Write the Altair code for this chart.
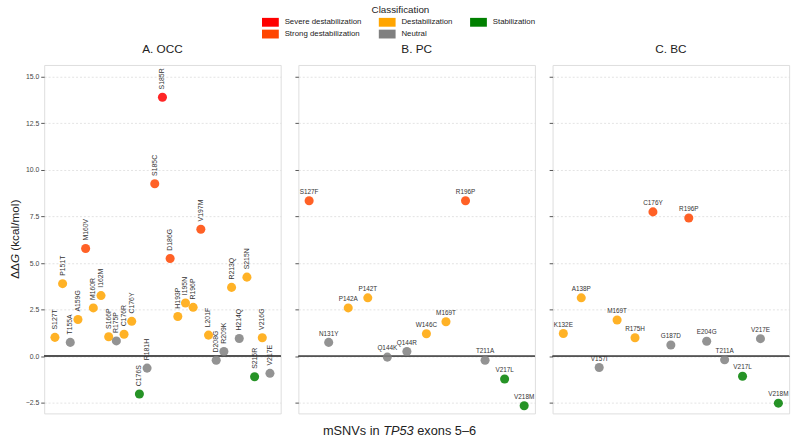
import altair as alt
import pandas as pd

# ---- data ----
occ_mut = ["S127T", "P151T", "T155A", "A159G", "M160V", "M160R", "I162M", "S166P",
           "R175P", "C176R", "C176Y", "C176S", "R181H", "S185C", "S185R", "D186G",
           "H193P", "I195N", "R196P", "V197M", "L201F", "D208G", "R209K", "R213Q",
           "H214Q", "S215N", "S215R", "V216G", "V217E"]
occ_ddg = [1.02, 3.90, 0.75, 1.98, 5.79, 2.60, 3.26, 1.05, 0.83, 1.19, 1.88, -2.02,
           -0.63, 9.26, 13.90, 5.25, 2.14, 2.86, 2.63, 6.82, 1.14, -0.21, 0.26, 3.70,
           0.96, 4.25, -1.09, 1.00, -0.91]
occ_cls = ["D", "D", "N", "D", "St", "D", "D", "D", "N", "D", "D", "S", "N", "St", "Sev",
           "St", "D", "D", "D", "St", "D", "N", "N", "D", "N", "D", "S", "D", "N"]

pc_mut = ["S127F", "N131Y", "P142A", "P142T", "Q144K", "Q144R", "W146C", "M169T",
          "R196P", "T211A", "V217L", "V218M"]
pc_ddg = [8.35, 0.75, 2.60, 3.14, -0.04, 0.26, 1.21, 1.86, 8.35, -0.21, -1.21, -2.65]
pc_cls = ["St", "N", "D", "D", "N", "N", "D", "D", "St", "N", "S", "S"]

bc_mut = ["K132E", "A138P", "V157I", "M169T", "R175H", "C176Y", "G187D", "R196P",
          "E204G", "T211A", "V217L", "V217E", "V218M"]
bc_ddg = [1.23, 3.14, -0.60, 1.95, 1.00, 7.75, 0.61, 7.42, 0.81, -0.18, -1.07, 0.95, -2.51]
bc_cls = ["D", "D", "N", "D", "D", "St", "N", "St", "N", "N", "S", "N", "S"]

cls_names = {"Sev": "Severe destabilization", "St": "Strong destabilization",
             "D": "Destabilization", "N": "Neutral", "S": "Stabilization"}
legend_order = ["Severe destabilization", "Destabilization", "Stabilization",
                "Strong destabilization", "Neutral"]
legend_colors = ["#ff0000", "#ffa500", "#008000", "#ff4500", "#808080"]
y_ticks = [-2.5, 0.0, 2.5, 5.0, 7.5, 10.0, 12.5, 15.0]

# axis title pieces (italic parts rendered separately)
ytitle_parts = ["ΔΔ", "G", "(kcal/mol)"]
xtitle_parts = ["mSNVs in", "TP53", "exons 5–6"]


def make_df(muts, vals, cls):
    return pd.DataFrame({
        "idx": list(range(len(muts))),
        "mut": muts,
        "ddg": vals,
        "cls": [cls_names[c] for c in cls],
    })


FONT = "Liberation Sans"
W, H = 241, 355

color_enc = alt.Color(
    "cls:N",
    scale=alt.Scale(domain=legend_order, range=legend_colors),
    legend=alt.Legend(
        title="Classification", orient="none", legendX=226, legendY=-61,
        columns=3, direction="horizontal",
        symbolType="M-1.9,-1H1.9V1H-1.9Z", symbolSize=81, symbolStrokeWidth=0,
        symbolOpacity=1, labelFontSize=8, labelFont=FONT, labelColor="#222",
        titleFontSize=10, titleFont=FONT, titleFontWeight="normal",
        titleColor="#222", titleAnchor="middle", titlePadding=3,
        columnPadding=16, rowPadding=3, labelOffset=10,
    ),
)


def title_piece(text, x, y, size, align, angle=None, italic=False):
    kw = dict(align=align, baseline="middle", fontSize=size, font=FONT, color="#222")
    if angle is not None:
        kw["angle"] = angle
    if italic:
        kw["fontStyle"] = "italic"
    return alt.Chart(pd.DataFrame({"t": [text]})).mark_text(**kw).encode(
        x=alt.value(x), y=alt.value(y), text="t:N")


def panel(df, title, rotated, first, xtitle=False):
    n = len(df)
    x = alt.X("idx:Q", axis=None,
              scale=alt.Scale(domain=[-0.05 * (n - 1), 1.05 * (n - 1)], nice=False, zero=False))
    if first:
        yaxis = alt.Axis(values=y_ticks, format=".1f", title=None,
                         labelFontSize=7, labelFont=FONT, labelColor="#444",
                         tickSize=3.5, tickColor="#555", domain=False,
                         grid=True, gridDash=[2, 2], gridColor="#d6d6d6", gridWidth=0.7)
    else:
        yaxis = alt.Axis(values=y_ticks, labels=False, title=None,
                         tickSize=3.5, tickColor="#555", domain=False,
                         grid=True, gridDash=[2, 2], gridColor="#d6d6d6", gridWidth=0.7)
    y = alt.Y("ddg:Q", axis=yaxis,
              scale=alt.Scale(domain=[-3.06, 15.63], nice=False, zero=False))
    base = alt.Chart(df)
    zero = base.mark_rule(color="#555", strokeWidth=0.9).encode(y=alt.datum(0))
    pts = base.mark_circle(size=85, opacity=0.85).encode(x=x, y=y, color=color_enc)
    if rotated:
        txt = base.mark_text(angle=270, align="left", baseline="middle", dx=8,
                             fontSize=7, font=FONT, color="#333").encode(x=x, y=y, text="mut:N")
    else:
        txt = base.mark_text(align="center", baseline="alphabetic", dy=-7,
                             fontSize=6.5, font=FONT, color="#333").encode(x=x, y=y, text="mut:N")
    layers = [zero, pts, txt]
    if first:
        # y-axis title: "ΔΔ" + italic "G" + "(kcal/mol)", reading bottom to top
        yc, xc = H / 2, -30
        start = yc + 40.3
        layers += [
            title_piece(ytitle_parts[0], xc, start, 12, "left", angle=270),
            title_piece(ytitle_parts[1], xc, start - 16.0, 12, "left", angle=270, italic=True),
            title_piece(ytitle_parts[2], xc, start - 28.6, 12, "left", angle=270),
        ]
    if xtitle:
        ty = H + 18
        layers += [
            title_piece(xtitle_parts[0], 82.8, ty, 13, "right"),
            title_piece(xtitle_parts[1], 86.4, ty, 13, "left", italic=True),
            title_piece(xtitle_parts[2], 121.1, ty, 13, "left"),
        ]
    return alt.layer(*layers).properties(
        width=W, height=H,
        title=alt.TitleParams(title, fontSize=12, fontWeight="normal", font=FONT,
                              color="#222", offset=9),
    )


a = panel(make_df(occ_mut, occ_ddg, occ_cls), "A. OCC", True, True)
b = panel(make_df(pc_mut, pc_ddg, pc_cls), "B. PC", False, False, xtitle=True)
c = panel(make_df(bc_mut, bc_ddg, bc_cls), "C. BC", False, False)

chart = alt.hconcat(a, b, c, spacing=12).properties(
    padding={"left": 8, "top": 1, "right": 6, "bottom": 4},
).configure_view(stroke="#555", strokeWidth=1).configure(background="white")

chart.save("out.html", embed_options={"renderer": "svg", "actions": False})
